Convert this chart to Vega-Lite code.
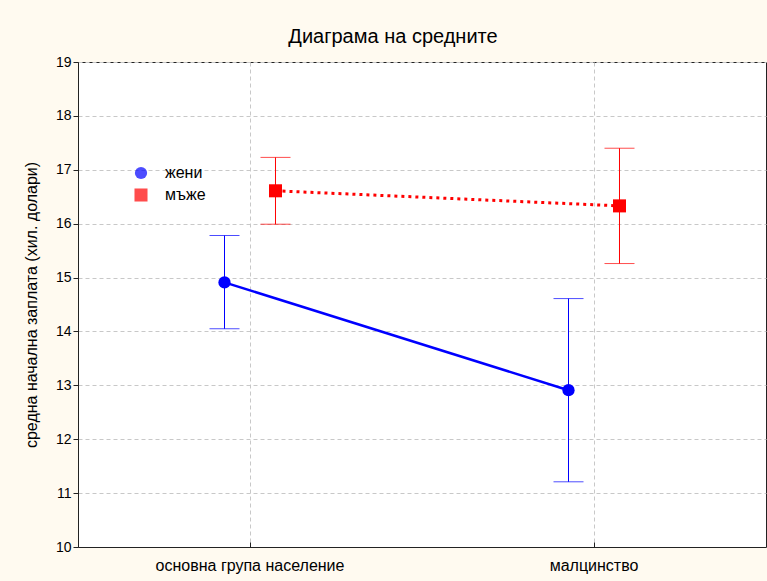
{
  "$schema": "https://vega.github.io/schema/vega-lite/v6.json",
  "width": 688,
  "height": 485,
  "autosize": "none",
  "padding": {"left": 78, "top": 62, "right": 1, "bottom": 34},
  "background": "#fffaf0",
  "title": {"text": "Диаграма на средните", "font": "Liberation Sans", "fontSize": 20, "fontWeight": "normal", "color": "#000", "offset": 8, "dx": -29},
  "config": {
    "view": {"fill": "white", "stroke": "#222", "strokeWidth": 1},
    "font": "Liberation Sans"
  },
  "data": {"values": [
    {"group": "основна група население", "sex": "жени", "mean": 14.91, "lo": 14.05, "hi": 15.78},
    {"group": "малцинство", "sex": "жени", "mean": 12.91, "lo": 11.21, "hi": 14.61},
    {"group": "основна група население", "sex": "мъже", "mean": 16.61, "lo": 15.99, "hi": 17.23},
    {"group": "малцинство", "sex": "мъже", "mean": 16.33, "lo": 15.26, "hi": 17.40}
  ]},
  "encoding": {
    "x": {"field": "group", "type": "nominal", "sort": ["основна група население", "малцинство"],
      "scale": {"type": "band", "paddingInner": 0.7035, "paddingOuter": 0.35175},
      "axis": {"title": null, "labelAngle": 0, "labelLimit": 0, "bandPosition": 0.5, "grid": true, "gridDash": [4, 3], "gridColor": "#c8c8c8",
        "domainColor": "#222", "tickColor": "#222", "tickSize": -5, "labelFontSize": 16, "labelColor": "#000", "labelPadding": 15}},
    "xOffset": {"field": "sex", "type": "nominal", "sort": ["жени", "мъже"]}
  },
  "layer": [
    {
      "mark": {"type": "rule", "strokeWidth": 1},
      "encoding": {
        "y": {"field": "lo", "type": "quantitative"},
        "y2": {"field": "hi"},
        "color": {"field": "sex", "type": "nominal", "title": null}
      }
    },
    {
      "mark": {"type": "tick", "size": 30, "thickness": 1},
      "encoding": {
        "y": {"field": "lo", "type": "quantitative"},
        "color": {"field": "sex", "type": "nominal", "title": null}
      }
    },
    {
      "mark": {"type": "tick", "size": 30, "thickness": 1},
      "encoding": {
        "y": {"field": "hi", "type": "quantitative"},
        "color": {"field": "sex", "type": "nominal", "title": null}
      }
    },
    {
      "transform": [{"filter": "datum.sex === 'жени'"}],
      "mark": {"type": "line", "strokeWidth": 2.5},
      "encoding": {
        "y": {"field": "mean", "type": "quantitative"},
        "color": {"field": "sex", "type": "nominal", "title": null}
      }
    },
    {
      "transform": [{"filter": "datum.sex === 'мъже'"}],
      "mark": {"type": "line", "strokeWidth": 3, "strokeDash": [3, 4]},
      "encoding": {
        "y": {"field": "mean", "type": "quantitative"},
        "color": {"field": "sex", "type": "nominal", "title": null}
      }
    },
    {
      "mark": {"type": "point", "filled": true, "opacity": 1},
      "encoding": {
        "y": {"field": "mean", "type": "quantitative",
          "scale": {"domain": [10, 19], "nice": false, "zero": false},
          "axis": {"title": "средна начална заплата (хил. долари)", "titleFontSize": 16, "titleFontWeight": "normal", "titleColor": "#000", "titlePadding": 16,
            "values": [10, 11, 12, 13, 14, 15, 16, 17, 18, 19], "format": "d", "labelFontSize": 14, "labelColor": "#000", "tickSize": 5, "tickColor": "#222",
            "domainColor": "#222", "grid": true, "gridDash": [4, 3], "gridColor": "#c8c8c8"}},
        "color": {"field": "sex", "type": "nominal", "title": null,
          "scale": {"domain": ["жени", "мъже"], "range": ["#0000ff", "#ff0000"]},
          "legend": {"orient": "none", "legendX": 55, "legendY": 103, "title": null, "labelFontSize": 16, "labelColor": "#000", "symbolSize": 150, "symbolOpacity": 1, "symbolStrokeWidth": 0, "rowPadding": 6, "labelOffset": 16}},
        "shape": {"field": "sex", "type": "nominal", "title": null, "scale": {"domain": ["жени", "мъже"], "range": ["circle", "square"]}},
        "size": {"field": "sex", "type": "nominal", "scale": {"domain": ["жени", "мъже"], "range": [150, 170]}, "legend": null}
      }
    }
  ]
}
